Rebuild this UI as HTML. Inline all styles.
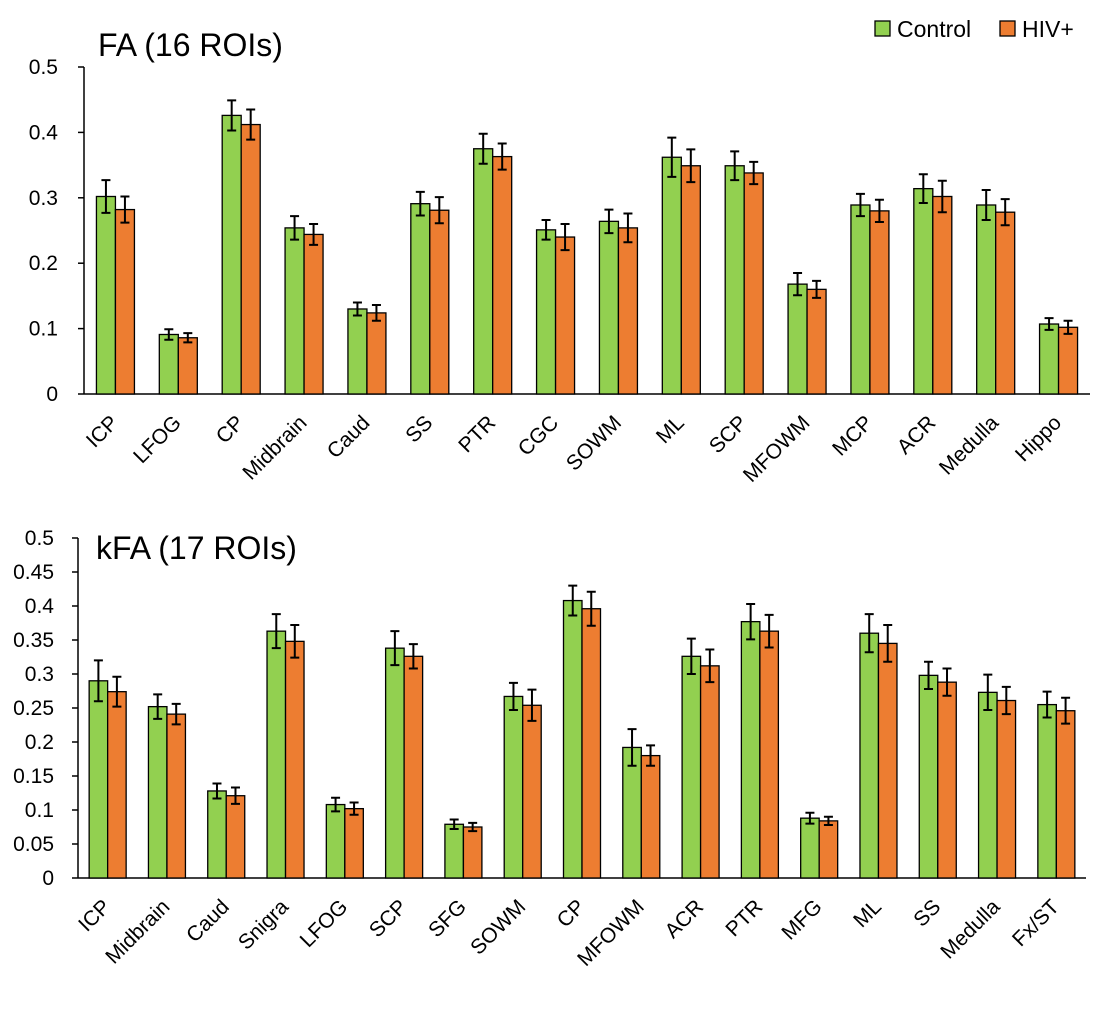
<!DOCTYPE html>
<html><head><meta charset="utf-8"><style>
html,body{margin:0;padding:0;background:#fff;}
svg{display:block;font-family:"Liberation Sans",Arial,sans-serif;}
</style></head><body>
<svg id="chart" width="1100" height="1012" viewBox="0 0 1100 1012"></svg>
<script>
const faCategories=["ICP","LFOG","CP","Midbrain","Caud","SS","PTR","CGC","SOWM","ML","SCP","MFOWM","MCP","ACR","Medulla","Hippo"];
const faControl=[0.302,0.091,0.426,0.254,0.130,0.291,0.375,0.251,0.264,0.362,0.349,0.168,0.289,0.314,0.289,0.107];
const faControlErr=[0.025,0.008,0.023,0.018,0.010,0.018,0.023,0.015,0.018,0.030,0.022,0.017,0.017,0.022,0.023,0.009];
const faHiv=[0.282,0.086,0.412,0.244,0.124,0.281,0.363,0.240,0.254,0.349,0.338,0.160,0.280,0.302,0.278,0.102];
const faHivErr=[0.020,0.007,0.023,0.016,0.012,0.020,0.020,0.020,0.022,0.025,0.017,0.013,0.017,0.024,0.020,0.010];
const faTicks=["0","0.1","0.2","0.3","0.4","0.5"];
const faTickValues=[0,0.1,0.2,0.3,0.4,0.5];

const kfaCategories=["ICP","Midbrain","Caud","Snigra","LFOG","SCP","SFG","SOWM","CP","MFOWM","ACR","PTR","MFG","ML","SS","Medulla","Fx/ST"];
const kfaControl=[0.290,0.252,0.128,0.363,0.108,0.338,0.079,0.267,0.408,0.192,0.326,0.377,0.088,0.360,0.298,0.273,0.255];
const kfaControlErr=[0.030,0.018,0.011,0.025,0.010,0.025,0.007,0.020,0.022,0.027,0.026,0.026,0.008,0.028,0.020,0.026,0.019];
const kfaHiv=[0.274,0.241,0.121,0.348,0.102,0.326,0.075,0.254,0.396,0.180,0.312,0.363,0.084,0.345,0.288,0.261,0.246];
const kfaHivErr=[0.022,0.015,0.012,0.024,0.009,0.018,0.006,0.023,0.025,0.015,0.024,0.024,0.006,0.027,0.020,0.020,0.019];
const kfaTicks=["0","0.05","0.1","0.15","0.2","0.25","0.3","0.35","0.4","0.45","0.5"];
const kfaTickValues=[0,0.05,0.1,0.15,0.2,0.25,0.3,0.35,0.4,0.45,0.5];

const NS="http://www.w3.org/2000/svg";
const svg=document.getElementById('chart');
function mk(tag,attrs,parent,text){const e=document.createElementNS(NS,tag);for(const k in attrs)e.setAttribute(k,attrs[k]);if(text!==undefined)e.textContent=text;(parent||svg).appendChild(e);return e;}

function drawChart(cfg){
  const g=mk('g',{});
  
  
  const y=v=>cfg.y0-(v/0.5)*(cfg.y0-cfg.y5);
  const n=cfg.cats.length;
  const step=(cfg.x1-cfg.x0)/n;
  cfg.tickValues.forEach((tv,i)=>{
    const t=mk('text',{x:cfg.x0-cfg.tickGap,y:y(tv)+7,'text-anchor':'end','font-size':21,fill:'#000'},g,cfg.ticks[i]);
    
    
    mk('line',{x1:cfg.x0-6,x2:cfg.x0,y1:y(tv),y2:y(tv),stroke:'#000','stroke-width':1.5},g);
  });
  const ax=mk('line',{x1:cfg.x0,x2:cfg.x0,y1:y(0.5),y2:y(0),stroke:'#000','stroke-width':1.5},g);
  
  
  const bx=mk('line',{x1:cfg.x0,x2:cfg.x1,y1:y(0),y2:y(0),stroke:'#000','stroke-width':1.5},g);
  
  
  const bw=cfg.bw;
  cfg.cats.forEach((c,i)=>{
    const cx=cfg.x0+step*(i+0.5);
    const series=[[cfg.ctrl[i],cfg.ctrlErr[i],'#92D050',cx-bw,'control'],[cfg.hiv[i],cfg.hivErr[i],'#ED7D31',cx,'hiv']];
    series.forEach(s=>{
      const r=mk('rect',{x:s[3],y:y(s[0]),width:bw,height:y(0)-y(s[0]),fill:s[2],stroke:'#000','stroke-width':1.3},g);
      
      
      const mx=s[3]+bw/2, hi=y(s[0]+s[1]), lo=y(s[0]-s[1]);
      const eb=mk('path',{d:`M${mx},${hi}V${lo}M${mx-4.5},${hi}H${mx+4.5}M${mx-4.5},${lo}H${mx+4.5}`,stroke:'#000','stroke-width':2,fill:'none'},g);
      
      
    });
    const lx=cx+4, ly=y(0)+30;
    const t=mk('text',{x:lx,y:ly,'text-anchor':'end','font-size':21,transform:`rotate(-45 ${lx} ${ly})`},g,c);
    
    
  });
  const tt=mk('text',{x:cfg.titleX,y:cfg.titleY,'font-size':32},g,cfg.title);
  
  
}
drawChart({name:'fa-chart',cats:faCategories,ctrl:faControl,ctrlErr:faControlErr,hiv:faHiv,hivErr:faHivErr,ticks:faTicks,tickValues:faTickValues,x0:84,x1:1090,y0:394,y5:67,bw:19,tickGap:26,title:'FA (16 ROIs)',titleX:98,titleY:56});
drawChart({name:'kfa-chart',cats:kfaCategories,ctrl:kfaControl,ctrlErr:kfaControlErr,hiv:kfaHiv,hivErr:kfaHivErr,ticks:kfaTicks,tickValues:kfaTickValues,x0:78,x1:1086,y0:878,y5:538,bw:18.5,tickGap:24,title:'kFA (17 ROIs)',titleX:96,titleY:559});

const lg=mk('g',{});


const l1=mk('rect',{x:875,y:21,width:15,height:15,fill:'#92D050',stroke:'#000','stroke-width':1.3},lg);


const lt1=mk('text',{x:897,y:37,'font-size':23},lg,'Control');


const l2=mk('rect',{x:1000,y:21,width:15,height:15,fill:'#ED7D31',stroke:'#000','stroke-width':1.3},lg);


const lt2=mk('text',{x:1022,y:37,'font-size':23},lg,'HIV+');


</script>
</body></html>
